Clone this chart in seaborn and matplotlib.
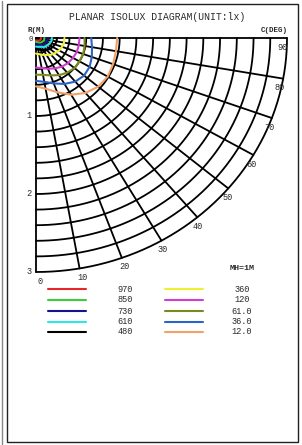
import numpy as np
import pandas as pd
import matplotlib
matplotlib.use("Agg")
import matplotlib.pyplot as plt
from matplotlib.lines import Line2D
from matplotlib.patches import Rectangle
import seaborn as sns

# isolux levels (lx) and their colours, as in the legend
levels = ["970", "850", "730", "610", "480", "360", "120", "61.0", "36.0", "12.0"]
level_colors = ["#e8252a", "#3ccc3c", "#14148c", "#2ee6e6", "#000000",
                "#f0f032", "#d23cd2", "#7a8a1e", "#2a64c8", "#f2a066"]

c_angles = [0, 10, 20, 30, 40, 50, 60, 70, 80, 90]

# isoline radius (m) at each C angle
radii = {
    "970":  [0.03, 0.03, 0.035, 0.04, 0.045, 0.05, 0.055, 0.06, 0.06, 0.06],
    "850":  [0.05, 0.055, 0.06, 0.07, 0.08, 0.085, 0.09, 0.10, 0.10, 0.10],
    "730":  [0.08, 0.085, 0.09, 0.10, 0.11, 0.12, 0.13, 0.135, 0.14, 0.14],
    "610":  [0.11, 0.115, 0.12, 0.13, 0.15, 0.16, 0.17, 0.18, 0.19, 0.19],
    "480":  [0.14, 0.15, 0.16, 0.18, 0.20, 0.22, 0.23, 0.24, 0.25, 0.25],
    "360":  [0.20, 0.21, 0.23, 0.25, 0.28, 0.30, 0.32, 0.33, 0.34, 0.34],
    "120":  [0.38, 0.39, 0.42, 0.45, 0.48, 0.50, 0.51, 0.52, 0.52, 0.52],
    "61.0": [0.47, 0.48, 0.51, 0.55, 0.58, 0.60, 0.60, 0.60, 0.59, 0.58],
    "36.0": [0.55, 0.57, 0.62, 0.68, 0.73, 0.75, 0.74, 0.71, 0.68, 0.66],
    "12.0": [0.62, 0.66, 0.74, 0.84, 0.92, 0.97, 0.99, 0.98, 0.97, 0.97],
}

# grid: radius rings and C-angle spokes
ring_radii = [0.2, 0.4, 0.6, 0.8, 1.0, 1.2, 1.4, 1.6, 1.8, 2.0,
              2.2, 2.4, 2.6, 2.8, 3.0]
spoke_angles = [0, 10, 20, 30, 40, 50, 60, 70, 80, 90]
radius_labels = ["1", "2", "3"]
radius_label_values = [1, 2, 3]

title = "PLANAR ISOLUX DIAGRAM(UNIT:lx)"
mh_label = "MH=1M"

W, H = 302, 445
mono = "Liberation Mono"

sns.set_style("white")
plt.rcParams["font.family"] = [mono, "DejaVu Sans"]

fig = plt.figure(figsize=(W / 100, H / 100), dpi=100)
ax = fig.add_axes([36 / W, 1 - 272 / H, 251 / W, 234 / H])
ax.set_xlim(0, 3)
ax.set_ylim(-3, 0)
ax.axis("off")

# grid
t = np.radians(np.linspace(0, 90, 200))
for r in ring_radii:
    ax.plot(r * np.sin(t), -r * np.cos(t), color="black", lw=1.3, zorder=1,
            clip_on=False)
for a in spoke_angles:
    ar = np.radians(a)
    ax.plot([0, 3 * np.sin(ar)], [0, -3 * np.cos(ar)], color="black", lw=1.3,
            zorder=1, clip_on=False)

# isolines
rows = []
for lv in levels:
    for c, r in zip(c_angles, radii[lv]):
        cr = np.radians(c)
        rows.append({"level": lv, "x": r * np.sin(cr), "y": -r * np.cos(cr)})
df = pd.DataFrame(rows)
sns.lineplot(data=df, x="x", y="y", hue="level", hue_order=levels,
             palette=dict(zip(levels, level_colors)), sort=False,
             estimator=None, lw=1.5, legend=False, ax=ax, zorder=3)
for line in ax.lines[-len(levels):]:
    line.set_clip_on(False)

fs = 6.2
txt = "#2a2a2a"
# angle labels at the end of the spokes
for a in spoke_angles:
    ar = np.radians(a)
    dx = 3 - 6 * a / 90
    ax.annotate(str(a), (3 * np.sin(ar), -3 * np.cos(ar)), xytext=(dx, -6.5),
                textcoords="offset points", ha="center", va="center",
                fontsize=fs, color=txt)

# radius labels on the left axis
for lab, v in zip(radius_labels, radius_label_values):
    ax.annotate(lab, (0, -v), xytext=(-3, 0), textcoords="offset points",
                ha="right", va="center", fontsize=fs, color=txt)
ax.annotate("0", (0, 0), xytext=(-2, -1), textcoords="offset points",
            ha="right", va="center", fontsize=fs - 1, color=txt)


def fx(px):
    return px / W


def fy(py):
    return 1 - py / H


fig.text(fx(157), fy(17), title, ha="center", va="center", fontsize=7.0,
         color=txt)
fig.text(fx(36), fy(30), "R(M)", ha="center", va="center", fontsize=5.4,
         fontweight="bold", color=txt)
fig.text(fx(274), fy(30), "C(DEG)", ha="center", va="center", fontsize=5.4,
         fontweight="bold", color=txt)
fig.text(fx(242), fy(268), mh_label, ha="center", va="center", fontsize=6,
         fontweight="bold", color=txt)

# legend, two columns of five
row_y = [289, 300, 311, 322, 332]
for i, (lv, col) in enumerate(zip(levels, level_colors)):
    colx = i // 5
    y = row_y[i % 5]
    x0, x1, tx = (48, 86, 125) if colx == 0 else (165, 203, 242)
    fig.add_artist(Line2D([fx(x0), fx(x1)], [fy(y), fy(y)], color=col,
                          lw=1.5, transform=fig.transFigure))
    fig.text(fx(tx), fy(y), lv, ha="center", va="center", fontsize=fs,
             color=txt)

# page frame
fig.add_artist(Rectangle((fx(7), fy(442)), fx(291), 438 / H, fill=False,
                         edgecolor="#222222", lw=1.0,
                         transform=fig.transFigure))
fig.add_artist(Line2D([fx(2), fx(2)], [fy(1), fy(444)], color="#888888",
                      lw=1.0, transform=fig.transFigure))

fig.savefig("out.png", dpi=100)
